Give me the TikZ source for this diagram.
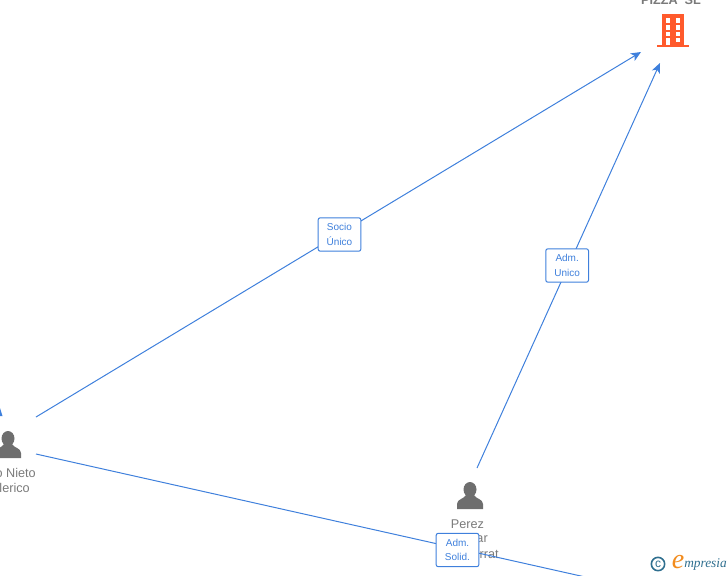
\documentclass[tikz,border=0pt]{standalone}
\usepackage{fontspec}
\setmainfont{Liberation Sans}
\newfontfamily\logofont{Liberation Serif}
\usetikzlibrary{arrows.meta}
\definecolor{linkblue}{HTML}{3F80DC}
\definecolor{labelgray}{HTML}{7A7A7A}
\definecolor{icongray}{HTML}{6E6E6E}
\definecolor{towerorange}{HTML}{FF5A2C}
\definecolor{logoteal}{HTML}{2F6F8F}
\definecolor{logoorange}{HTML}{F28C1E}
\tikzset{
    person/.pic={
        \fill[icongray] (0,-6.5) ellipse (6.5 and 7.5);
        \fill[icongray] (-13,13) -- (-13,8) .. controls (-13,3) and (-6,3) .. (-4,-1) -- (4,-1) .. controls (6,3) and (13,3) .. (13,8) -- (13,13) -- cycle;
    }
}
\begin{document}
\begin{tikzpicture}[
    x=0.75pt, y=-0.75pt,
    link/.style={draw=linkblue, line width=0.75pt},
    arrow/.style={link, ->, >={Stealth[length=7.5pt, width=6.5pt, inset=2pt]}},
    tag/.style={rectangle, draw=linkblue, fill=white, rounded corners=1.5pt, line width=0.75pt, minimum width=32pt, minimum height=25pt, inner sep=0pt, align=center, text=linkblue, font=\fontsize{7.5}{11}\selectfont},
    entity/.style={text=labelgray, inner sep=0pt, font=\fontsize{9.5}{11}\selectfont}
]
\useasboundingbox (0,0) rectangle (728,575);
\clip (0,0) rectangle (728,575);

% Company
\node[entity, font=\fontsize{9.5}{11}\bfseries\selectfont] (company) at (671,0) {PIZZA\ \ SL};
\fill[towerorange] (662,14) rectangle (684,45);
\fill[towerorange] (657,45) rectangle (689,47);
\foreach \x in {665.5, 675.5}
    \foreach \y/\h in {18/4.5, 25/4.5, 31.5/4}
        \fill[white] (\x,\y) rectangle +(4.5,\h);
\fill[white] (665.5,37.5) rectangle (670,45);
\fill[white] (675.5,37.5) rectangle (680,42);

% People
\pic at (8,445) {person};
\pic at (470,496) {person};
\node[entity, anchor=east] (nieto) at (36,473) {o Nieto};
\node[entity, anchor=east] (federico) at (30,488) {lerico};
\node[entity] (perez) at (467.5,524) {Perez};
\node[entity, anchor=east] (perezb) at (488,539) {ar};
\node[entity, anchor=east] (perezc) at (499,554) {rrat};

% Cut off arrow tip
\fill[linkblue] (0,408) -- (2.5,416) -- (0,416) -- cycle;

% Ends of the lines
\coordinate (nietotop) at (36,417);
\coordinate (nietolow) at (36,454);
\coordinate (perezout) at (477,468);
\coordinate (companyl) at (641,52);
\coordinate (companyb) at (660,63);
\coordinate (offpage) at (880,643);

% Links
\draw[arrow] (nietotop) -- node[tag, xshift=0.75pt] (socio) {Socio\\Único} (companyl);
\draw[arrow] (perezout) -- node[tag, xshift=-1pt] (admunico) {Adm.\\Unico} (companyb);
\draw[link] (nietolow) -- (offpage);
\node[tag] (admsolid) at (457.5,550) {Adm.\\Solid.};

% Logo
\node[circle, draw=logoteal, line width=1.2pt, inner sep=0pt, minimum size=10pt, text=logoteal, font=\fontsize{9}{9}\selectfont] (copyr) at (658,564) {c};
\node[text=logoorange, inner sep=0pt, font=\logofont\itshape\fontsize{21}{21}\selectfont] (logoe) at (678,562) {e};
\node[text=logoteal, inner sep=0pt, anchor=west, font=\logofont\itshape\fontsize{10}{10}\selectfont] (logotext) at (684,564) {mpresia};
\end{tikzpicture}
\end{document}
